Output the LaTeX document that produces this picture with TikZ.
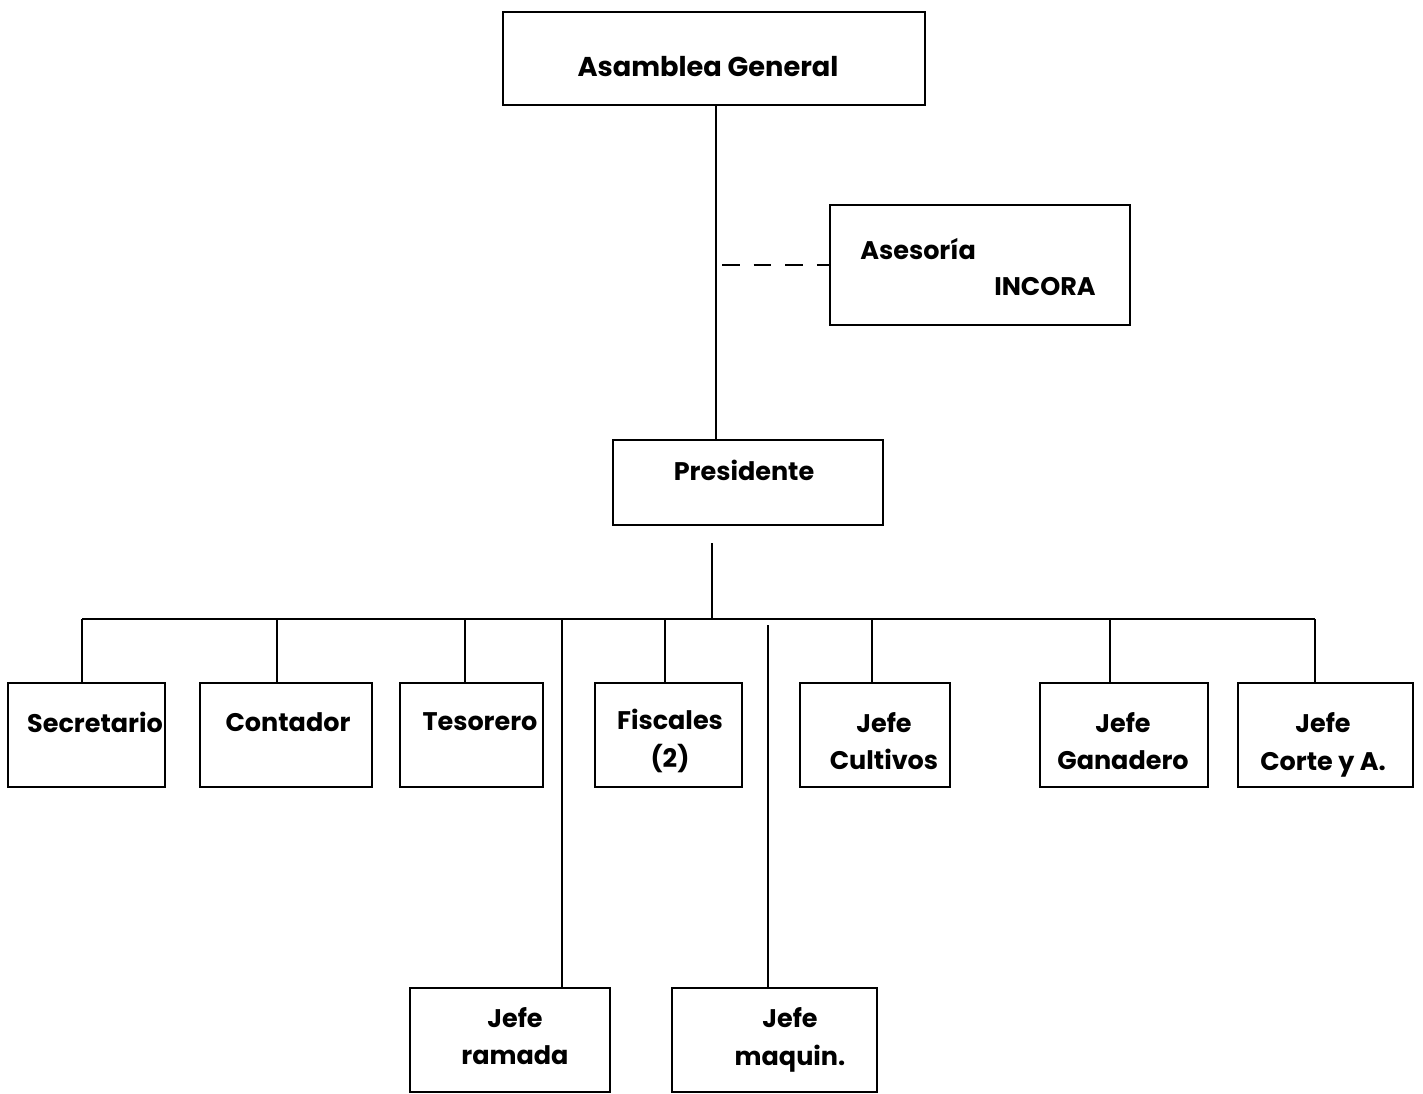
\documentclass[tikz,border=0pt]{standalone}
\usepackage{fontspec}
\setmainfont{Poppins}
\usetikzlibrary{fit}
\begin{document}
\begin{tikzpicture}[x=0.02cm,y=-0.02cm,
  box/.style={draw, line width=1.4pt, inner sep=0pt, outer sep=0pt},
  lbl/.style={font=\bfseries\fontsize{14.5}{21.5}\selectfont, align=center, inner sep=0pt},
  conn/.style={line width=1.4pt},
  dashconn/.style={line width=1.4pt, dash pattern=on 10pt off 8pt}]
\useasboundingbox (0,0) rectangle (1423,1093);
% boxes
\node[box, fit={(503,12)(925,105)}] (asamblea) {};
\node[box, fit={(830,205)(1130,325)}] (asesoria) {};
\node[box, fit={(613,440)(883,525)}] (presidente) {};
\node[box, fit={(8,683)(165,787)}] (secretario) {};
\node[box, fit={(200,683)(372,787)}] (contador) {};
\node[box, fit={(400,683)(543,787)}] (tesorero) {};
\node[box, fit={(595,683)(742,787)}] (fiscales) {};
\node[box, fit={(800,683)(950,787)}] (cultivos) {};
\node[box, fit={(1040,683)(1208,787)}] (ganadero) {};
\node[box, fit={(1238,683)(1413,787)}] (corte) {};
\node[box, fit={(410,988)(610,1092)}] (ramada) {};
\node[box, fit={(672,988)(877,1092)}] (maquin) {};
% texts
\node[lbl, font=\bfseries\fontsize{15.5}{20}\selectfont] (t-asamblea) at (708,67) {Asamblea General};
\node[lbl, anchor=west] (t-asesoria1) at (860,249) {Asesoría};
\node[lbl] (t-asesoria2) at (1045,287) {INCORA};
\node[lbl] (t-presidente) at (744,470) {Presidente};
\node[lbl] (t-secretario) at (95,722) {Secretario};
\node[lbl] (t-contador) at (288,722) {Contador};
\node[lbl] (t-tesorero) at (480,722) {Tesorero};
\node[lbl] (t-fiscales) at (670,741) {Fiscales\\(2)};
\node[lbl] (t-cultivos) at (884,741) {Jefe\\Cultivos};
\node[lbl] (t-ganadero) at (1123,741) {Jefe\\Ganadero};
\node[lbl] (t-corte) at (1323,745) {Jefe\\Corte y A.};
\node[lbl] (t-ramada) at (515,1036) {Jefe\\ramada};
\node[lbl] (t-maquin) at (790,1040) {Jefe\\maquin.};
% coordinates
\coordinate (trunk) at (716,105);
\coordinate (dashend) at (722,265);
\coordinate (pdrop) at (712,543);
\coordinate (busL) at (82,619);
\coordinate (busR) at (1315,619);
\coordinate (d1) at (82,619);
\coordinate (d2) at (277,619);
\coordinate (d3) at (465,619);
\coordinate (d4) at (665,619);
\coordinate (d5) at (872,619);
\coordinate (d6) at (1110,619);
\coordinate (d7) at (1315,619);
\coordinate (l1) at (562,619);
\coordinate (l2) at (768,625);
% connectors
\draw[conn] (trunk) -- (trunk |- presidente.north);
\draw[dashconn] (dashend) -- (asesoria.west);
\draw[conn] (pdrop) -- (pdrop |- busL);
\draw[conn] (busL) -- (busR);
\draw[conn] (d1) -- (d1 |- secretario.north);
\draw[conn] (d2) -- (d2 |- contador.north);
\draw[conn] (d3) -- (d3 |- tesorero.north);
\draw[conn] (d4) -- (d4 |- fiscales.north);
\draw[conn] (d5) -- (d5 |- cultivos.north);
\draw[conn] (d6) -- (d6 |- ganadero.north);
\draw[conn] (d7) -- (d7 |- corte.north);
\draw[conn] (l1) -- (l1 |- ramada.north);
\draw[conn] (l2) -- (l2 |- maquin.north);
\end{tikzpicture}
\end{document}
